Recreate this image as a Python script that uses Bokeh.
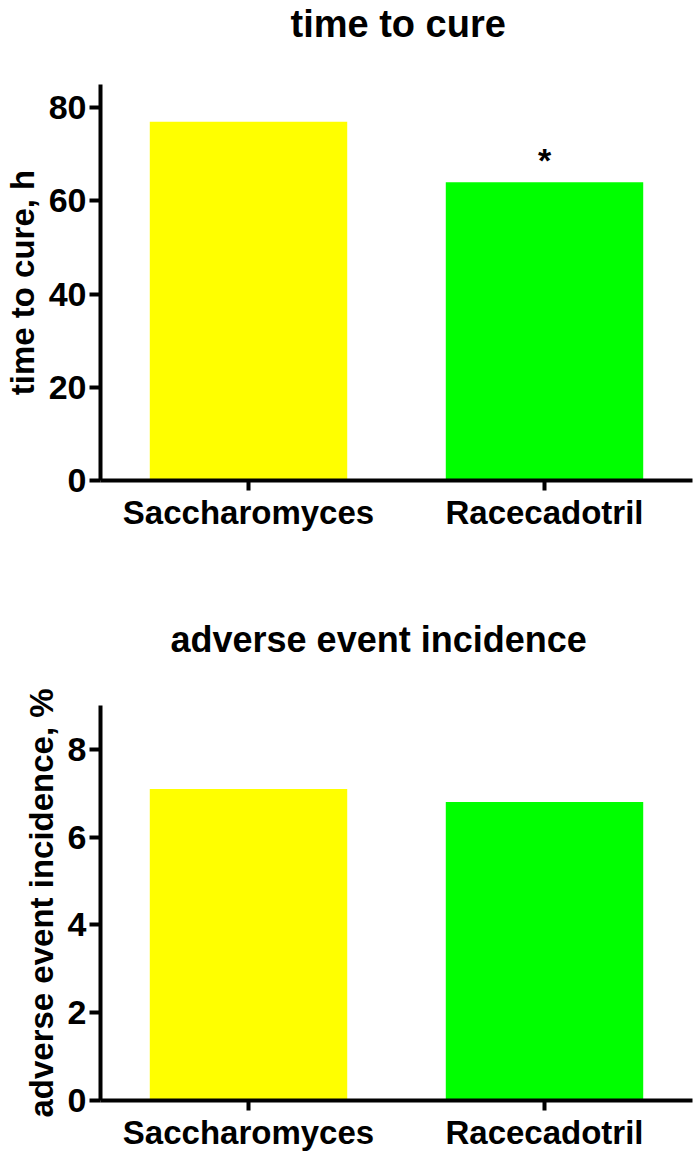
from bokeh.plotting import figure
from bokeh.models import ColumnDataSource, FactorRange, Range1d, FixedTicker, Title
from bokeh.layouts import column
from bokeh.embed import file_html
from bokeh.resources import INLINE
from bokeh.core.properties import value

groups = ["Saccharomyces", "Racecadotril"]
colors = ["#FFFF00", "#00FF00"]
time_to_cure = [77, 64]
time_sig = ["", "*"]
adverse_pct = [7.1, 6.8]
adverse_sig = ["", ""]
time_ticks = [0, 20, 40, 60, 80]
adverse_ticks = [0, 2, 4, 6, 8]

FONT = "Liberation Sans"


def make(title, title_size, ylabel, vals, sig, ymax, ticks, h, mb_top, mb_bottom,
         title_offset, gap_standoff):
    src = ColumnDataSource(dict(g=groups, v=vals, c=colors, s=sig))
    p = figure(x_range=FactorRange(factors=groups, range_padding=0),
               y_range=Range1d(0, ymax), width=699, height=h, title=None,
               output_backend="svg", toolbar_location=None,
               min_border_left=98, min_border_right=7,
               min_border_top=mb_top, min_border_bottom=mb_bottom)
    p.vbar(x="g", top="v", width=0.667, fill_color="c", line_color=None, source=src)
    p.text(x="g", y="v", text="s", source=src, text_align="center",
           text_baseline="bottom", y_offset=-3, text_font=value(FONT),
           text_font_size="34px", text_font_style="bold", text_color="black")
    # spacer between the title and the plot frame
    p.add_layout(Title(text=" ", text_font_size="1px", standoff=gap_standoff), "above")
    p.add_layout(Title(text=title, text_font=FONT, text_font_size=title_size,
                       text_font_style="bold", text_color="black",
                       align="left", offset=title_offset, standoff=0), "above")
    p.outline_line_color = None
    p.xgrid.grid_line_color = None
    p.ygrid.grid_line_color = None
    for ax in (p.xaxis[0], p.yaxis[0]):
        ax.axis_line_width = 4
        ax.axis_line_color = "black"
        ax.major_tick_line_width = 4
        ax.major_tick_line_color = "black"
        ax.minor_tick_line_color = None
        ax.major_tick_in = 0
        ax.major_label_text_font = FONT
        ax.major_label_text_font_style = "bold"
        ax.major_label_text_color = "black"
    p.xaxis.major_label_text_font_size = "33px"
    p.yaxis.major_label_text_font_size = "34px"
    p.xaxis.major_tick_out = 10
    p.xaxis.major_label_standoff = 3
    p.yaxis.major_tick_out = 11
    p.yaxis.major_label_standoff = 3
    p.yaxis.ticker = FixedTicker(ticks=ticks)
    p.yaxis.axis_label = ylabel
    p.yaxis.axis_label_text_font = FONT
    p.yaxis.axis_label_text_font_size = "33px"
    p.yaxis.axis_label_text_font_style = "bold"
    p.yaxis.axis_label_text_color = "black"
    p.yaxis.axis_label_standoff = 5
    return p


p1 = make("time to cure", "38px", "time to cure, h", time_to_cure, time_sig, 85,
          time_ticks, 560, 84, 80, 190, 37)
p2 = make("adverse event incidence", "36px", "adverse event incidence, %",
          adverse_pct, adverse_sig, 9, adverse_ticks, 599, 145, 59, 70, 43)

layout = column(p1, p2, spacing=0)
open("out.html", "w").write(file_html(layout, INLINE))
